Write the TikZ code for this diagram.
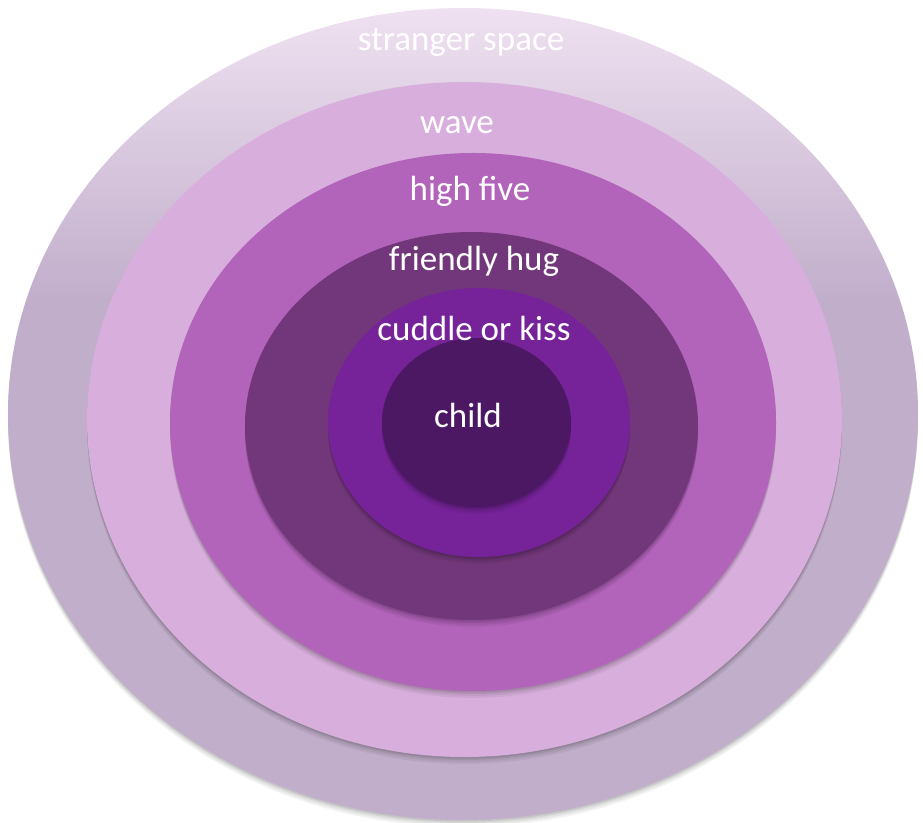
\documentclass[tikz,border=0pt]{standalone}
\usepackage{fontspec}
\setmainfont{Carlito}
\usetikzlibrary{shapes.geometric}
\definecolor{cOuter}{HTML}{C1AECB}
\definecolor{cOuterTop}{HTML}{EFE1F1}
\definecolor{cWave}{HTML}{D8AFDC}
\definecolor{cHigh}{HTML}{B263BA}
\definecolor{cHug}{HTML}{72377A}
\definecolor{cCuddle}{HTML}{762399}
\definecolor{cChild}{HTML}{4C1763}
\pgfdeclareverticalshading{outershade}{100bp}{color(0bp)=(cOuter); color(25bp)=(cOuter); color(57bp)=(cOuter); color(75bp)=(cOuterTop); color(100bp)=(cOuterTop)}
\tikzset{
  ring/.style={ellipse, inner sep=0pt, draw=none,
    preaction={fill=black, fill opacity=0.05, transform canvas={yshift=-7pt}},
    preaction={fill=black, fill opacity=0.06, transform canvas={yshift=-5pt}},
    preaction={fill=black, fill opacity=0.07, transform canvas={yshift=-3pt}},
    preaction={fill=black, fill opacity=0.08, transform canvas={yshift=-1.5pt}}},
  lbl/.style={text=white, font=\fontsize{35}{40}\selectfont, inner sep=0pt}
}
\begin{document}
\begin{tikzpicture}[x=1pt,y=1pt]
\useasboundingbox (0,0) rectangle (923,822);
\node[ring, minimum width=910pt, minimum height=812pt, shading=outershade] (outer) at (463,408) {};
\node[ring, fill=cWave, minimum width=755pt, minimum height=675pt] (wave) at (464.5,402.5) {};
\node[ring, fill=cHigh, minimum width=606pt, minimum height=538pt] (high) at (473,400) {};
\node[ring, fill=cHug, minimum width=453pt, minimum height=388pt] (hug) at (471.5,396) {};
\node[ring, fill=cCuddle, minimum width=302pt, minimum height=269pt] (cuddle) at (479,399.5) {};
\node[ring, fill=cChild, minimum width=189pt, minimum height=169pt] (child) at (476.5,399.5) {};
\node[lbl] (tStranger) at (461,780) {stranger space};
\node[lbl] (tWave) at (457,697) {wave};
\node[lbl] (tHigh) at (470,631) {high five};
\node[lbl] (tHug) at (474,561) {friendly hug};
\node[lbl] (tCuddle) at (474,494) {cuddle or kiss};
\node[lbl] (tChild) at (468,407) {child};
\end{tikzpicture}
\end{document}
